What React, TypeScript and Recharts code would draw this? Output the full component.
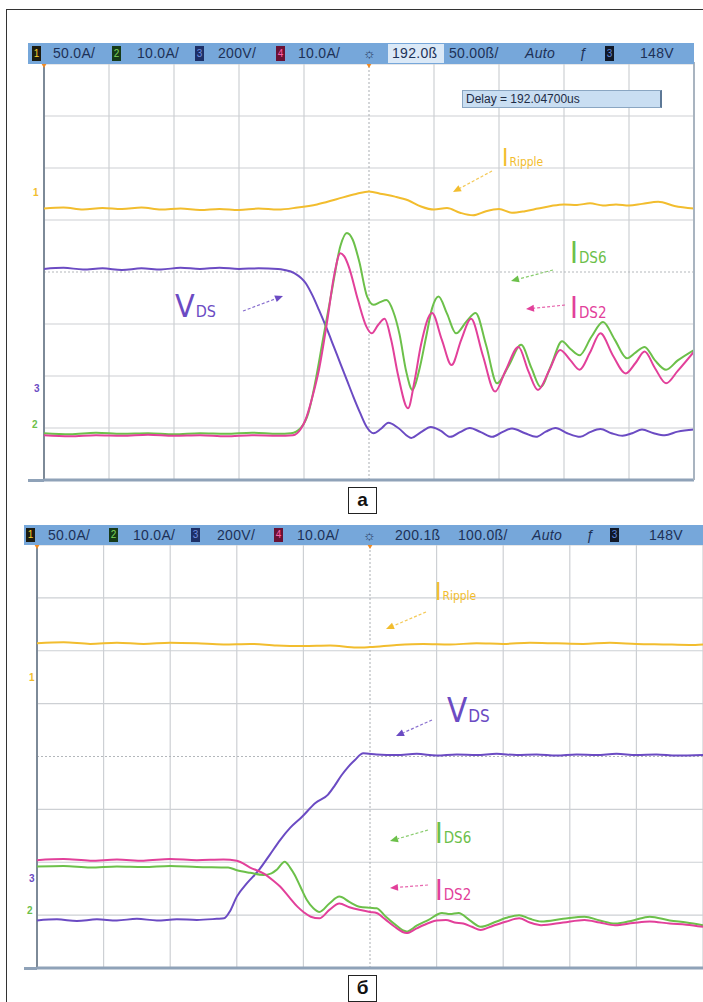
import React from 'react';
import {
  LineChart,
  Line,
  XAxis,
  YAxis,
  ReferenceLine,
  ReferenceDot
} from 'recharts';

type Pt = [number, number];

// screen divisions (10 horizontal x 8 vertical)
const divX = [0, 1, 2, 3, 4, 5, 6, 7, 8, 9, 10];
const divY = [0, 1, 2, 3, 4, 5, 6, 7, 8];

// header readouts
const topScales = ['50.0A/', '10.0A/', '200V/', '10.0A/'];
const topTime = ['192.0ß', '50.00ß/', 'Auto', '148V'];
const bottomScales = ['50.0A/', '10.0A/', '200V/', '10.0A/'];
const bottomTime = ['200.1ß', '100.0ß/', 'Auto', '148V'];
const delayText = 'Delay = 192.04700us';
const panelNames = ['а', 'б'];

// --- panel a (turn-on) : [division, division] ---
const topRipple: Pt[] = [
  [0, 5.22], [0.3, 5.24], [0.6, 5.2], [0.9, 5.23], [1.2, 5.21], [1.5, 5.24], [1.8, 5.2],
  [2.1, 5.22], [2.4, 5.19], [2.7, 5.21], [3.0, 5.19], [3.3, 5.22], [3.6, 5.2], [3.9, 5.24],
  [4.2, 5.3], [4.5, 5.4], [4.8, 5.5], [5.0, 5.55], [5.2, 5.5], [5.4, 5.45], [5.6, 5.38],
  [5.8, 5.26], [6.0, 5.2], [6.2, 5.23], [6.4, 5.14], [6.6, 5.09], [6.8, 5.17], [7.0, 5.21],
  [7.2, 5.14], [7.4, 5.17], [7.6, 5.22], [7.8, 5.27], [8.0, 5.3], [8.2, 5.29], [8.4, 5.32],
  [8.6, 5.28], [8.8, 5.3], [9.0, 5.28], [9.2, 5.31], [9.45, 5.35], [9.7, 5.27], [10, 5.22]
];

const topVds: Pt[] = [
  [0, 4.06], [0.3, 4.08], [0.6, 4.05], [0.9, 4.07], [1.2, 4.04], [1.5, 4.07], [1.8, 4.05],
  [2.1, 4.08], [2.4, 4.06], [2.7, 4.08], [3.0, 4.06], [3.3, 4.07], [3.6, 4.06], [3.7, 4.04],
  [3.85, 3.98], [4.03, 3.78], [4.13, 3.55], [4.23, 3.27], [4.36, 2.88], [4.46, 2.56],
  [4.56, 2.24], [4.66, 1.92], [4.76, 1.6], [4.86, 1.3], [4.96, 1.03], [5.07, 0.9],
  [5.18, 0.98], [5.3, 1.1], [5.45, 1.0], [5.65, 0.81], [5.8, 0.92], [5.95, 1.02], [6.1, 0.95],
  [6.25, 0.83], [6.4, 0.92], [6.55, 1.0], [6.72, 0.92], [6.9, 0.83], [7.05, 0.92], [7.2, 0.99],
  [7.4, 0.9], [7.57, 0.83], [7.72, 0.93], [7.87, 1.0], [8.05, 0.9], [8.25, 0.83], [8.4, 0.92],
  [8.56, 0.98], [8.73, 0.9], [8.9, 0.85], [9.05, 0.9], [9.2, 0.97], [9.38, 0.9], [9.55, 0.86],
  [9.75, 0.93], [10, 0.97]
];

const topIds6: Pt[] = [
  [0, 0.9], [0.4, 0.88], [0.8, 0.91], [1.2, 0.89], [1.6, 0.9], [2.0, 0.88], [2.4, 0.9],
  [2.8, 0.89], [3.2, 0.91], [3.6, 0.89], [3.8, 0.9], [3.95, 1.0], [4.07, 1.3], [4.17, 1.86],
  [4.3, 2.76], [4.43, 3.65], [4.56, 4.5], [4.66, 4.75], [4.75, 4.62], [4.85, 4.2], [4.97, 3.53],
  [5.07, 3.37], [5.17, 3.42], [5.27, 3.46], [5.37, 3.25], [5.47, 2.8], [5.57, 2.1], [5.67, 1.73],
  [5.77, 2.1], [5.88, 2.76], [5.97, 3.3], [6.07, 3.53], [6.2, 3.2], [6.34, 2.82], [6.5, 3.05],
  [6.64, 3.21], [6.8, 2.6], [6.97, 1.86], [7.15, 2.2], [7.34, 2.6], [7.5, 2.15], [7.64, 1.79],
  [7.8, 2.2], [7.97, 2.67], [8.1, 2.52], [8.24, 2.4], [8.42, 2.75], [8.6, 3.04], [8.78, 2.7],
  [8.97, 2.34], [9.1, 2.45], [9.24, 2.56], [9.4, 2.3], [9.57, 2.12], [9.75, 2.3], [10, 2.5]
];

const topIds2: Pt[] = [
  [0, 0.86], [0.4, 0.84], [0.8, 0.86], [1.2, 0.85], [1.6, 0.87], [2.0, 0.85], [2.4, 0.86],
  [2.8, 0.84], [3.2, 0.86], [3.6, 0.85], [3.83, 0.86], [3.95, 0.98], [4.03, 1.18], [4.13, 1.6],
  [4.23, 2.12], [4.36, 3.08], [4.46, 3.91], [4.56, 4.36], [4.62, 4.3], [4.69, 4.1], [4.83, 3.46],
  [4.96, 2.95], [5.04, 2.82], [5.14, 2.98], [5.24, 3.1], [5.34, 2.7], [5.45, 2.0], [5.6, 1.38],
  [5.7, 1.9], [5.8, 2.6], [5.97, 3.21], [6.12, 2.7], [6.27, 2.21], [6.42, 2.7], [6.57, 3.1],
  [6.75, 2.4], [6.94, 1.7], [7.1, 2.1], [7.3, 2.56], [7.45, 2.1], [7.6, 1.73], [7.77, 2.1],
  [7.94, 2.5], [8.1, 2.3], [8.24, 2.12], [8.4, 2.45], [8.56, 2.82], [8.75, 2.4], [8.95, 2.05],
  [9.1, 2.25], [9.24, 2.47], [9.4, 2.15], [9.57, 1.86], [9.75, 2.1], [10, 2.47]
];

// --- panel б (turn-off) ---
const botRipple: Pt[] = [
  [0, 6.14], [0.4, 6.16], [0.8, 6.13], [1.2, 6.15], [1.6, 6.13], [2.0, 6.15], [2.4, 6.14],
  [2.8, 6.12], [3.2, 6.13], [3.6, 6.1], [4.0, 6.09], [4.4, 6.1], [4.8, 6.06], [5.0, 6.07],
  [5.4, 6.11], [5.8, 6.13], [6.2, 6.12], [6.6, 6.14], [7.0, 6.13], [7.4, 6.15], [7.8, 6.14],
  [8.2, 6.13], [8.6, 6.15], [9.0, 6.13], [9.4, 6.12], [9.8, 6.11], [10, 6.12]
];

const botVds: Pt[] = [
  [0, 0.9], [0.3, 0.92], [0.6, 0.89], [0.9, 0.92], [1.2, 0.9], [1.5, 0.93], [1.8, 0.9],
  [2.1, 0.92], [2.4, 0.91], [2.7, 0.93], [2.81, 0.94], [2.9, 1.08], [3.0, 1.35], [3.15, 1.6],
  [3.33, 1.85], [3.5, 2.15], [3.65, 2.42], [3.8, 2.65], [3.98, 2.86], [4.18, 3.12], [4.37, 3.28],
  [4.47, 3.45], [4.57, 3.64], [4.67, 3.8], [4.77, 3.93], [4.9, 4.06], [5.1, 4.04], [5.4, 4.03],
  [5.7, 4.05], [6.0, 4.02], [6.3, 4.04], [6.6, 4.03], [6.9, 4.05], [7.2, 4.03], [7.5, 4.04],
  [7.8, 4.02], [8.1, 4.04], [8.4, 4.03], [8.7, 4.05], [9.0, 4.03], [9.3, 4.04], [9.6, 4.02],
  [10, 4.03]
];

const botIds6: Pt[] = [
  [0, 1.92], [0.4, 1.93], [0.8, 1.9], [1.2, 1.92], [1.6, 1.91], [2.0, 1.93], [2.4, 1.91],
  [2.87, 1.9], [3.0, 1.85], [3.2, 1.8], [3.4, 1.76], [3.52, 1.79], [3.6, 1.86], [3.72, 2.01],
  [3.8, 1.9], [3.87, 1.76], [3.95, 1.55], [4.05, 1.29], [4.15, 1.13], [4.24, 1.06], [4.39, 1.22],
  [4.54, 1.35], [4.69, 1.25], [4.84, 1.16], [5.0, 1.14], [5.1, 1.13], [5.23, 0.98], [5.36, 0.84],
  [5.55, 0.69], [5.7, 0.8], [5.88, 0.91], [6.08, 1.04], [6.2, 1.02], [6.33, 1.04], [6.5, 0.9],
  [6.66, 0.78], [6.9, 0.88], [7.05, 0.95], [7.24, 1.0], [7.4, 0.93], [7.57, 0.88], [7.9, 0.93],
  [8.22, 0.97], [8.45, 0.9], [8.68, 0.84], [8.95, 0.9], [9.2, 0.97], [9.5, 0.9], [9.75, 0.86],
  [10, 0.81]
];

const botIds2: Pt[] = [
  [0, 2.04], [0.4, 2.06], [0.8, 2.03], [1.2, 2.05], [1.6, 2.03], [2.0, 2.06], [2.4, 2.04],
  [2.8, 2.05], [3.0, 2.03], [3.2, 1.9], [3.4, 1.79], [3.55, 1.65], [3.65, 1.54], [3.78, 1.35],
  [3.91, 1.16], [4.01, 1.05], [4.11, 0.97], [4.24, 0.94], [4.39, 1.1], [4.54, 1.22], [4.69, 1.15],
  [4.84, 1.1], [5.0, 1.06], [5.1, 1.04], [5.23, 0.92], [5.36, 0.79], [5.55, 0.66], [5.7, 0.75],
  [5.88, 0.85], [6.0, 0.9], [6.14, 0.91], [6.27, 0.86], [6.4, 0.84], [6.53, 0.78], [6.66, 0.72],
  [6.85, 0.8], [7.05, 0.88], [7.24, 0.94], [7.4, 0.86], [7.57, 0.81], [7.9, 0.86], [8.22, 0.91],
  [8.45, 0.86], [8.68, 0.81], [8.95, 0.85], [9.2, 0.88], [9.5, 0.84], [9.75, 0.82], [10, 0.78]
];

const C = {
  ripple: '#f2bd2e',
  vds: '#6b4bc3',
  ids6: '#6cc04a',
  ids2: '#e2409a',
  grid: '#cdd0d4',
  header: '#76a7da',
  headerText: '#1d3157'
};

const pts = (a: Pt[]) => a.map(([t, v]) => ({ t, v }));

const Tri = (props: any) => {
  const { cx, cy } = props;
  return <polygon points={`${cx - 3},${cy - 1} ${cx + 3},${cy - 1} ${cx},${cy + 4}`} fill="#f08a24" />;
};

interface PanelProps {
  top: number;
  width: number;
  height: number;
  margin: { top: number; left: number; right: number; bottom: number };
  series: { data: Pt[]; color: string }[];
}

const ScopePanel: React.FC<PanelProps> = ({ top, width, height, margin, series }) => (
  <div style={{ position: 'absolute', left: 0, top }}>
    <LineChart width={width} height={height} margin={margin}>
      <XAxis type="number" dataKey="t" domain={[0, 10]} ticks={divX} hide allowDataOverflow />
      <YAxis type="number" dataKey="v" domain={[0, 8]} ticks={divY} hide allowDataOverflow />
      {/* graticule */}
      {divX.filter((d) => d > 0 && d !== 5).map((d) => (
        <ReferenceLine key={'vx' + d} x={d} stroke={C.grid} strokeWidth={1.2} />
      ))}
      {divY.filter((d) => d > 0 && d !== 4).map((d) => (
        <ReferenceLine key={'hy' + d} y={d} stroke={C.grid} strokeWidth={1.2} />
      ))}
      <ReferenceLine x={5} stroke="#a9adb2" strokeDasharray="2 2" />
      <ReferenceLine y={4} stroke="#b3b7bb" strokeDasharray="2 2" />
      <ReferenceLine x={0} stroke="#7d8a98" strokeWidth={2} />
      <ReferenceLine y={0} stroke="#8fa2b8" strokeWidth={3} />
      {series.map((s, i) => (
        <Line
          key={i}
          data={pts(s.data)}
          dataKey="v"
          type="monotone"
          stroke={s.color}
          strokeWidth={2}
          dot={false}
          isAnimationActive={false}
        />
      ))}
      <ReferenceDot x={0} y={8} r={3} shape={Tri} ifOverflow="visible" />
      <ReferenceDot x={5} y={8} r={3} shape={Tri} ifOverflow="visible" />
    </LineChart>
  </div>
);

interface HeaderProps {
  top: number;
  left: number;
  width: number;
  height: number;
  scales: string[];
  time: string[];
  badgeX: number[];
  textX: number[];
  timeX: number[];
  sunX: number;
  fX: number;
  lastBadgeX: number;
  boxed: boolean;
}

const badgeColors = [
  ['#1b1b10', '#f4d12c'],
  ['#153a17', '#7bd35a'],
  ['#1d2f66', '#6f8fe0'],
  ['#6a1134', '#ff5fa8']
];

const Badge = ({ x, h, n, colors }: { x: number; h: number; n: string; colors: string[] }) => (
  <div
    style={{
      position: 'absolute',
      left: x,
      top: 3,
      width: 9,
      height: h - 6,
      background: colors[0],
      color: colors[1],
      fontSize: 10,
      lineHeight: `${h - 6}px`,
      textAlign: 'center'
    }}
  >
    {n}
  </div>
);

const ScopeHeader: React.FC<HeaderProps> = (p) => {
  const txt: React.CSSProperties = {
    position: 'absolute',
    top: 0,
    lineHeight: `${p.height}px`,
    fontSize: 14,
    color: C.headerText
  };
  return (
    <div
      style={{
        position: 'absolute',
        left: p.left,
        top: p.top,
        width: p.width,
        height: p.height,
        background: C.header,
        fontFamily: '"Liberation Sans Narrow", "Liberation Sans", Arial, sans-serif',
        color: C.headerText
      }}
    >
      {p.scales.map((s, i) => (
        <React.Fragment key={i}>
          <Badge x={p.badgeX[i] - p.left} h={p.height} n={String(i + 1)} colors={badgeColors[i]} />
          <span style={{ ...txt, left: p.textX[i] - p.left, letterSpacing: 0.3 }}>{s}</span>
        </React.Fragment>
      ))}
      <span style={{ ...txt, left: p.sunX - p.left, fontSize: 14 }}>☼</span>
      {p.boxed && (
        <div
          style={{
            position: 'absolute',
            left: p.timeX[0] - p.left - 4,
            top: 1,
            width: 56,
            height: p.height - 2,
            background: '#dbe9f7'
          }}
        />
      )}
      {p.time.map((s, i) => (
        <span key={s} style={{ ...txt, left: p.timeX[i] - p.left, letterSpacing: 0.3, fontStyle: i === 2 ? 'italic' : 'normal' }}>
          {s}
        </span>
      ))}
      <span style={{ ...txt, left: p.fX - p.left, fontStyle: 'italic' }}>ƒ</span>
      <Badge x={p.lastBadgeX - p.left} h={p.height} n="3" colors={['#101828', '#5f86d8']} />
    </div>
  );
};

const Tag = ({ x, y, big, sub, color, size }: { x: number; y: number; big: string; sub: string; color: string; size: number }) => (
  <text x={x} y={y} fill={color} fontFamily='"DejaVu Sans Condensed", "DejaVu Sans", sans-serif'>
    <tspan fontSize={size}>{big}</tspan>
    <tspan fontSize={Math.round(size * 0.5)} dx={1}>{sub}</tspan>
  </text>
);

const Arrow = ({ x1, y1, x2, y2, color }: { x1: number; y1: number; x2: number; y2: number; color: string }) => {
  const a = Math.atan2(y2 - y1, x2 - x1);
  const L = 8;
  const W = 3.5;
  const bx = x2 - L * Math.cos(a);
  const by = y2 - L * Math.sin(a);
  const px = -Math.sin(a) * W;
  const py = Math.cos(a) * W;
  return (
    <g>
      <line x1={x1} y1={y1} x2={bx} y2={by} stroke={color} strokeWidth={1.2} strokeDasharray="3 2" opacity={0.8} />
      <polygon points={`${x2},${y2} ${bx + px},${by + py} ${bx - px},${by - py}`} fill={color} />
    </g>
  );
};

const Marker = ({ x, y, n, color }: { x: number; y: number; n: string; color: string }) => (
  <text x={x} y={y} fill={color} fontSize={10} fontFamily='"Liberation Sans", sans-serif' fontWeight="bold">
    {n}
  </text>
);

const NameBox = ({ top, name }: { top: number; name: string }) => (
  <div
    style={{
      position: 'absolute',
      left: 348,
      top,
      width: 27,
      height: 25,
      border: '1.5px solid #222',
      background: '#fff',
      textAlign: 'center',
      fontFamily: '"Liberation Sans", Arial, sans-serif',
      fontWeight: 'bold',
      fontSize: 19,
      lineHeight: '24px',
      color: '#111'
    }}
  >
    {name}
  </div>
);

export default function App() {
  return (
    <div style={{ position: 'absolute', left: 0, top: 0, width: 703, height: 1002, background: '#fff', overflow: 'hidden' }}>
      {/* outer frame */}
      <div style={{ position: 'absolute', left: 6, top: 9, width: 710, height: 1010, borderTop: '1px solid #333', borderLeft: '1px solid #333' }} />

      <ScopePanel
        top={0}
        width={703}
        height={490}
        margin={{ top: 64, left: 44, right: 9, bottom: 10 }}
        series={[
          { data: topRipple, color: C.ripple },
          { data: topVds, color: C.vds },
          { data: topIds6, color: C.ids6 },
          { data: topIds2, color: C.ids2 }
        ]}
      />
      <ScopePanel
        top={520}
        width={703}
        height={460}
        margin={{ top: 25, left: 37, right: 0, bottom: 12 }}
        series={[
          { data: botRipple, color: C.ripple },
          { data: botVds, color: C.vds },
          { data: botIds6, color: C.ids6 },
          { data: botIds2, color: C.ids2 }
        ]}
      />

      {/* right edge of top screen and left stub of bottom bars */}
      <div style={{ position: 'absolute', left: 693, top: 62, width: 2, height: 418, background: '#a9b4c0' }} />
      <div style={{ position: 'absolute', left: 28, top: 479, width: 16, height: 3, background: '#8fa2b8' }} />
      <div style={{ position: 'absolute', left: 24, top: 967, width: 13, height: 3, background: '#8fa2b8' }} />

      <ScopeHeader
        top={43}
        left={28}
        width={666}
        height={21}
        scales={topScales}
        time={topTime}
        badgeX={[32, 112, 195, 276]}
        textX={[53, 137, 218, 298]}
        timeX={[392, 449, 525, 640]}
        sunX={363}
        fX={579}
        lastBadgeX={605}
        boxed
      />
      <ScopeHeader
        top={525}
        left={24}
        width={679}
        height={20}
        scales={bottomScales}
        time={bottomTime}
        badgeX={[26, 109, 191, 274]}
        textX={[48, 133, 217, 297]}
        timeX={[395, 458, 532, 649]}
        sunX={363}
        fX={586}
        lastBadgeX={610}
        boxed={false}
      />

      {/* delay readout */}
      <div
        style={{
          position: 'absolute',
          left: 462,
          top: 90,
          width: 194,
          height: 16,
          background: '#c9def2',
          border: '1px solid #8aa6c2',
          borderRight: '2px solid #5d7896',
          fontFamily: '"Liberation Sans", Arial, sans-serif',
          fontSize: 12,
          lineHeight: '16px',
          paddingLeft: 3,
          color: '#1d2b45'
        }}
      >
        {delayText}
      </div>

      <svg width={703} height={1002} style={{ position: 'absolute', left: 0, top: 0, pointerEvents: 'none' }}>
        {/* panel a annotations */}
        <Tag x={502} y={166} big="I" sub="Ripple" color={C.ripple} size={24} />
        <Arrow x1={492} y1={171} x2={453} y2={192} color={C.ripple} />
        <Tag x={175} y={317} big="V" sub="DS" color={C.vds} size={32} />
        <Arrow x1={243} y1={311} x2={283} y2={296} color={C.vds} />
        <Tag x={570} y={263} big="I" sub="DS6" color={C.ids6} size={30} />
        <Arrow x1={553} y1={270} x2={511} y2={281} color={C.ids6} />
        <Tag x={570} y={318} big="I" sub="DS2" color={C.ids2} size={30} />
        <Arrow x1={565} y1={305} x2={526} y2={309} color={C.ids2} />

        {/* panel б annotations */}
        <Tag x={435} y={600} big="I" sub="Ripple" color={C.ripple} size={24} />
        <Arrow x1={426} y1={612} x2={386} y2={629} color={C.ripple} />
        <Tag x={447} y={722} big="V" sub="DS" color={C.vds} size={33} />
        <Arrow x1={432} y1={720} x2={396} y2={736} color={C.vds} />
        <Tag x={435} y={843} big="I" sub="DS6" color={C.ids6} size={29} />
        <Arrow x1={428} y1={830} x2={390} y2={841} color={C.ids6} />
        <Tag x={435} y={900} big="I" sub="DS2" color={C.ids2} size={29} />
        <Arrow x1={428} y1={885} x2={390} y2={888} color={C.ids2} />

        {/* channel ground markers */}
        <Marker x={33} y={196} n="1" color={C.ripple} />
        <Marker x={34} y={392} n="3" color={C.vds} />
        <Marker x={32} y={428} n="2" color={C.ids6} />
        <Marker x={29} y={681} n="1" color={C.ripple} />
        <Marker x={29} y={882} n="3" color={C.vds} />
        <Marker x={27} y={914} n="2" color={C.ids6} />
      </svg>

      <NameBox top={487} name={panelNames[0]} />
      <NameBox top={975} name={panelNames[1]} />
    </div>
  );
}
